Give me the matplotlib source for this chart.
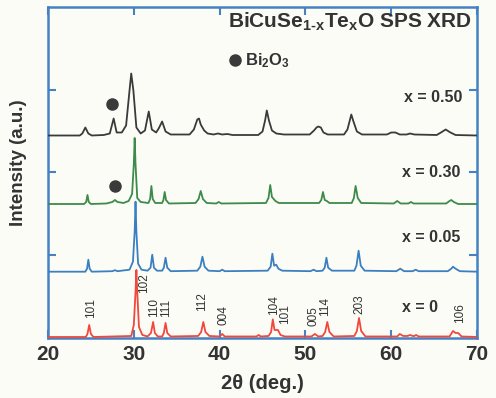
# -*- coding: utf-8 -*-
"""
BiCuSe(1-x)Te(x)O SPS XRD stacked patterns
"""
import matplotlib
matplotlib.use('Agg')
import matplotlib.pyplot as plt

plt.rcParams['font.family'] = ['Liberation Sans', 'DejaVu Sans']
plt.rcParams['mathtext.default'] = 'regular'

# 1. data : (2theta, intensity), each series from its own baseline
x050 = [20, 23.7, 24.0, 24.35, 24.7, 25.1, 26.5, 27.2, 27.65, 28.0, 28.6, 29.1, 29.5, 29.7,
        29.95, 30.3, 30.8, 31.3, 31.74, 32.1, 32.6, 32.9, 33.3, 33.7, 34.3, 36.5, 37.0, 37.4,
        37.6, 37.8, 38.2, 38.6, 39.3, 39.8, 40.3, 40.9, 41.5, 44.5, 45.0, 45.3, 45.5, 45.75,
        46.1, 46.6, 47.5, 50.5, 51.0, 51.3, 51.5, 51.8, 52.1, 52.6, 54.5, 54.9, 55.2, 55.35,
        55.6, 56.0, 56.6, 59.5, 60.0, 60.5, 61.0, 61.8, 62.2, 62.7, 65.3, 65.8, 66.35, 66.9,
        67.5, 70]
y050 = [0, 0, 2, 8, 2, 0, 0.5, 2, 17, 3, 3, 10, 45, 62,
        45, 8, 2, 5, 24, 6, 3, 7, 14, 4, 1, 1, 6, 16,
        17, 11, 5, 2, 1, 2, 1, 1.5, 0.5, 0.5, 4, 15, 25, 15,
        5, 2, 1, 1, 5, 8, 9, 8, 3, 1, 1, 6, 16, 21,
        14, 4, 1, 1, 3, 3, 1, 1, 2, 1, 0.5, 3, 6, 3,
        0.5, 0]

x030 = [20, 24.2, 24.45, 24.6, 24.75, 25.0, 26.8, 27.5, 27.8, 28.1, 28.8, 29.4, 29.8, 30.0,
        30.1, 30.2, 30.4, 30.8, 31.7, 31.9, 32.05, 32.2, 32.5, 33.3, 33.45, 33.6, 33.75, 34.1,
        37.2, 37.55, 37.8, 38.05, 38.5, 39.6, 39.9, 40.2, 45.4, 45.7, 45.9, 46.1, 46.5, 46.9,
        51.6, 51.85, 52.05, 52.25, 52.5, 52.8, 55.4, 55.65, 55.85, 56.1, 56.5, 60.3, 60.7, 61.1,
        62.0, 62.3, 62.6, 66.4, 66.8, 67.0, 67.3, 67.8, 70]
y030 = [0, 0, 2, 9, 2, 0, 0.5, 2, 4, 2, 1, 3, 10, 40,
        66, 40, 6, 2, 1, 5, 18, 5, 1, 1, 4, 12, 4, 0.5,
        1, 5, 13, 5, 1, 0.5, 2, 0.5, 1, 6, 19, 7, 3, 1,
        1, 4, 12, 4, 3, 1, 1, 6, 18, 6, 1, 0.5, 3, 0.5,
        0.5, 2, 0.5, 0.5, 3, 4, 2, 0, 0]

x005 = [20, 24.35, 24.55, 24.7, 24.85, 25.1, 27.5, 27.8, 28.1, 29.5, 29.9, 30.1, 30.2, 30.3,
        30.5, 30.9, 31.6, 31.95, 32.15, 32.35, 32.7, 33.3, 33.5, 33.7, 33.9, 34.3, 37.4, 37.75,
        38.0, 38.25, 38.7, 40.0, 40.3, 40.6, 45.6, 45.95, 46.15, 46.35, 46.6, 46.85, 47.3, 50.6,
        50.95, 51.3, 52.0, 52.25, 52.45, 52.65, 53.1, 55.7, 55.95, 56.2, 56.45, 56.9, 60.6, 61.05,
        61.5, 62.5, 62.85, 63.2, 66.6, 67.0, 67.2, 67.5, 68.0, 70]
y005 = [0, 0, 3, 12, 3, 0, 0.5, 1.5, 0.5, 2, 10, 40, 70, 40,
        8, 2, 1, 4, 17, 4, 1, 1, 4, 14, 4, 0.5, 1, 5,
        15, 5, 1, 0.5, 2, 0.5, 1, 5, 18, 6, 7, 3, 1, 0.5,
        2, 0.5, 1, 4, 14, 4, 1, 1, 6, 21, 6, 1, 0.5, 3,
        0.5, 0.5, 2, 0.5, 0.5, 3, 5, 3, 0.5, 0]

x000 = [20, 24.4, 24.6, 24.8, 25.0, 25.3, 29.7, 30.0, 30.2, 30.3, 30.4, 30.6, 31.0, 31.6,
        32.0, 32.25, 32.45, 32.8, 33.3, 33.5, 33.7, 33.9, 34.3, 37.5, 37.85, 38.1, 38.35, 38.8,
        40.0, 40.3, 40.6, 44.3, 44.55, 44.8, 45.7, 46.0, 46.2, 46.4, 46.8, 47.1, 47.6, 50.7,
        51.1, 51.5, 52.0, 52.3, 52.55, 52.8, 53.3, 55.7, 56.0, 56.25, 56.5, 57.0, 60.7, 61.0,
        61.4, 61.9, 62.2, 62.5, 62.7, 62.9, 63.2, 66.8, 67.2, 67.5, 67.8, 68.2, 70]
y000 = [0, 0, 3, 12, 3, 0, 1, 12, 45, 67, 45, 10, 2, 0.5,
        4, 15, 4, 0.5, 0.5, 4, 14, 4, 0.5, 1, 5, 15, 5, 1,
        0.5, 3, 0.5, 0.5, 2, 0.5, 1, 5, 17.6, 7, 7, 2, 0.5, 0.5,
        3, 0.5, 1, 5, 15, 5, 0.5, 1, 6, 19, 6, 0.5, 0.5, 3,
        1, 1, 2, 1, 1, 2, 0.5, 0.5, 6, 4, 4, 0.5, 0]

series_labels = ['x = 0', 'x = 0.05', 'x = 0.30', 'x = 0.50']

# indexed peaks of x = 0 (hkl, 2theta of label)
hkl_names = ['101', '102', '110', '111', '112', '004', '104', '101', '005', '114', '203', '106']
hkl_pos = [25.05, 31.2, 32.35, 33.8, 38.0, 40.4, 46.3, 47.65, 50.9, 52.3, 56.3, 68.0]

# Bi2O3 impurity peak (2theta)
bi2o3_pos = [27.45, 27.8]

# 2. style / layout
offsets = [1, 66.3, 134, 202.5]
colors = ['#f0483c', '#3b7fc0', '#3d8a4a', '#3a3a3a']
hkl_y = [30, 55, 30, 30, 36, 23, 33, 24, 22, 31, 34, 25]
label_xy = [(63.3, 30, 'center'), (68.1, 100, 'right'), (68.1, 165, 'right'), (68.25, 240, 'right')]
spine_c = '#4682c3'
txt_c = '#333333'

fig = plt.figure(figsize=(4.96, 3.98), dpi=100)
fig.patch.set_facecolor('#fcfcf7')
ax = fig.add_axes([0.0968, 0.1508, 0.8649, 0.8316])
ax.set_facecolor('#fcfcf7')

# 3. patterns
xs = [x000, x005, x030, x050]
ys = [y000, y005, y030, y050]
for i in [3, 2, 1, 0]:
    ax.plot(xs[i], [v + offsets[i] for v in ys[i]], color=colors[i], lw=1.3, zorder=3)
    lx, ly, ha = label_xy[i]
    ax.text(lx, ly, series_labels[i], ha=ha, va='center', fontsize=11.5,
            fontweight='bold', color=txt_c)

for name, px, py in zip(hkl_names, hkl_pos, hkl_y):
    ax.text(px, py, name, rotation=90, ha='center', va='center', fontsize=8.5, color=txt_c)

ax.plot(bi2o3_pos, [234, 152], 'o', color='#3a3a3a', ms=8, zorder=4)
ax.plot([41.8], [278], 'o', color='#3a3a3a', ms=8)
ax.text(43.0, 277, 'Bi$_{2}$O$_{3}$', ha='left', va='center', fontsize=12,
        fontweight='bold', color=txt_c)

ax.text(69.4, 316, 'BiCuSe$_{1\u2010x}$Te$_{x}$O SPS XRD', ha='right', va='center',
        fontsize=15, fontweight='bold', color=txt_c)

# 4. axes
ax.set_xlim(20, 70)
ax.set_ylim(0, 331)
ax.set_xticks([20, 30, 40, 50, 60, 70])
ax.set_yticks([83, 166, 248])
ax.set_yticklabels([])
ax.tick_params(direction='in', length=6, width=1.5, color=spine_c, top=True, right=True,
               labelsize=15, labelcolor=txt_c, pad=5)
for lab in ax.get_xticklabels():
    lab.set_fontweight('bold')
for sp in ax.spines.values():
    sp.set_color(spine_c)
    sp.set_linewidth(1.8)

ax.set_xlabel('2θ (deg.)', fontsize=14.5, fontweight='bold', color=txt_c)
ax.xaxis.set_label_coords(0.5, -0.11)
ax.set_ylabel('Intensity (a.u.)', fontsize=13.5, fontweight='bold', color=txt_c)
ax.yaxis.set_label_coords(-0.05, 0.53)

fig.savefig('out.png', dpi=100, facecolor=fig.get_facecolor())
